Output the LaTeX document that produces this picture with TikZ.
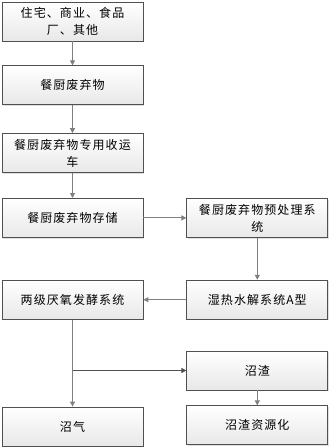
\documentclass[tikz,border=0pt]{standalone}
\usepackage{fontspec}
\newfontfamily\cjk[LetterSpace=9]{Noto Sans CJK SC}
\usetikzlibrary{arrows.meta,positioning,shadows}
\definecolor{boxline}{HTML}{505050}
\definecolor{flowline}{HTML}{808080}

\begin{document}
\begin{tikzpicture}[x=1pt, y=-1pt, node distance=24pt and 43pt,
  every node/.style={font=\cjk\fontsize{12}{17}\selectfont}]
\tikzset{box/.style={draw=boxline, line width=0.8pt, align=center, minimum width=141pt, minimum height=39pt, inner sep=2pt, top color=white, bottom color=black!9, drop shadow={shadow xshift=1.2pt, shadow yshift=-1.2pt, fill=black!25}}}
\tikzset{arrow/.style={-{Triangle[length=5pt,width=5pt]}, draw=flowline, line width=1.1pt}}
\useasboundingbox (0,0) rectangle (331,447);
\node[box] (src) at (72.5,21.5) {住宅、商业、食品\\厂、其他};
\node[box, below=24pt of src] (waste) {餐厨废弃物};
\node[box, below=28pt of waste] (truck) {餐厨废弃物专用收运\\车};
\node[box, below=25pt of truck] (store) {餐厨废弃物存储};
\node[box, right=43pt of store] (pre) {餐厨废弃物预处理系\\统};
\node[box, below=42pt of pre] (hydro) {湿热水解系统A型};
\node[box, below=42pt of store] (ferm) {两级厌氧发酵系统};
\node[box, below=87pt of ferm] (gas) {沼气};
\node[box, below=31pt of hydro] (resid) {沼渣};
\node[box, below=15pt of resid] (reuse) {沼渣资源化};
\coordinate (split) at (ferm.south |- resid.west);
\draw[arrow] (src) -- (waste);
\draw[arrow] (waste) -- (truck);
\draw[arrow] (truck) -- (store);
\draw[arrow] (store) -- (pre);
\draw[arrow] (pre) -- (hydro);
\draw[arrow] (hydro) -- (ferm);
\draw[arrow] (ferm) -- (gas);
\draw[arrow, draw=boxline, line width=0.8pt] (split) -- (resid);
\draw[arrow] (resid) -- (reuse);
\end{tikzpicture}
\end{document}
